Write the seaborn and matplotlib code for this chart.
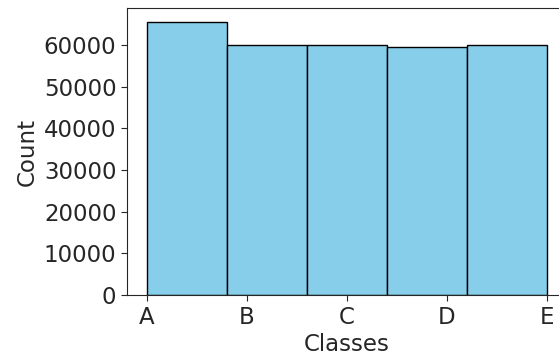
import numpy as np
import pandas as pd
import matplotlib
matplotlib.use("Agg")
import matplotlib.pyplot as plt
import seaborn as sns

# 클래스별 샘플 수
classes = ["A", "B", "C", "D", "E"]
counts = [65500, 59900, 59900, 59500, 59900]

df = pd.DataFrame({"cls": np.arange(len(classes)), "n": counts})

sns.set_style("ticks")
plt.rcParams["font.family"] = ["DejaVu Sans"]

fig = plt.figure(figsize=(5.59, 3.56), dpi=100)
ax = fig.add_axes([0.227, 0.171, 0.787, 0.806])
sns.histplot(data=df, x="cls", weights="n", bins=5, color="skyblue",
             edgecolor="black", linewidth=1, alpha=1, ax=ax)
ax.set_xticks(np.arange(len(classes)))
ax.set_xticklabels(classes)
ax.set_yticks(np.arange(0, 70000, 10000))
ax.set_xlabel("Classes", fontsize=16.5, labelpad=3)
ax.set_ylabel("Count", fontsize=16.5)
ax.tick_params(labelsize=16.5, length=4)
for s in ax.spines.values():
    s.set_visible(True)

plt.savefig("out.png", dpi=100)
